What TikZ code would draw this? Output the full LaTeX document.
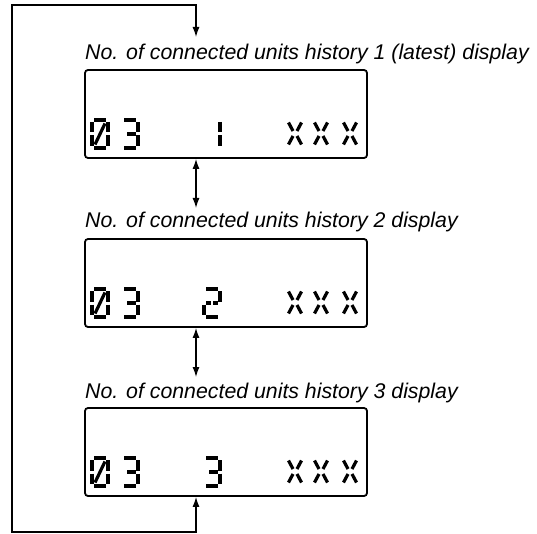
\documentclass[tikz,border=0pt]{standalone}
\usepackage{fontspec}
\setmainfont{Liberation Sans}
\usetikzlibrary{arrows.meta}
\tikzset{
  >={Latex[length=10pt,width=7pt]},
  lcd/.style={draw, line width=1.8pt, rounded corners=3pt, minimum width=282pt, minimum height=88pt, inner sep=0pt},
  lbl/.style={anchor=base west, inner sep=0pt, font=\fontsize{21.3}{25}\selectfont\itshape},
  conn/.style={line width=1.3pt},
  seg/.style={line width=3.2pt},
  xseg/.style={line width=3.2pt}
}
\newcommand\segT{\draw[seg] (2,0)--(14,0);}
\newcommand\segB{\draw[seg] (2,28)--(14,28);}
\newcommand\segUR{\draw[seg] (16,2)--(16,12.5);}
\newcommand\segLR{\draw[seg] (16,15.5)--(16,26);}
\newcommand\segUL{\draw[seg] (0,2)--(0,12.5);}
\newcommand\segLL{\draw[seg] (0,15.5)--(0,26);}
\newcommand\segML{\draw[seg] (2,14)--(7,14);}
\newcommand\segMR{\draw[seg] (9,14)--(14,14);}
\newcommand\digZero[2]{\begin{scope}[shift={(#1,#2)}]\segT\segB\segUR\segLR\segUL\segLL\draw[seg] (13,3.5)--(3,24.5);\end{scope}}
\newcommand\digThree[2]{\begin{scope}[shift={(#1,#2)}]\segT\segB\segUR\segLR\draw[seg] (5,14)--(14,14);\end{scope}}
\newcommand\digTwo[2]{\begin{scope}[shift={(#1,#2)}]\segT\segB\segUR\segLL\segML\segMR\end{scope}}
\newcommand\digOne[2]{\begin{scope}[shift={(#1,#2)}]\segUR\segLR\end{scope}}
\newcommand\digX[2]{\begin{scope}[shift={(#1,#2)}]\draw[xseg] (1.5,0.5)--(6,9);\draw[xseg] (14.5,0.5)--(10,9);\draw[xseg] (1.5,22.5)--(6,14);\draw[xseg] (14.5,22.5)--(10,14);\end{scope}}
\newcommand\rowXXX[1]{\digX{287}{#1}\digX{313}{#1}\digX{342}{#1}}
\begin{document}
\begin{tikzpicture}[x=1pt,y=-1pt]
\useasboundingbox (0,0) rectangle (537,534);
\coordinate (ax) at (196,0);
% labels
\node[lbl] (l1) at (85,60) {No. of connected units history 1 (latest) display};
\node[lbl] (l2) at (85,228) {No. of connected units history 2 display};
\node[lbl] (l3) at (85,398) {No. of connected units history 3 display};
% boxes
\node[lcd] (b1) at (226,114) {};
\node[lcd] (b2) at (226,283) {};
\node[lcd] (b3) at (226,452) {};
% digits
\digZero{92}{120}\digThree{122}{120}\digOne{204}{120}\rowXXX{122}
\digZero{92}{289}\digThree{122}{289}\digTwo{204}{289}\rowXXX{291}
\digZero{92}{458}\digThree{122}{458}\digThree{204}{458}\rowXXX{460}
% connectors
\coordinate (t1) at (196,37);
\coordinate (t2) at (196,208);
\coordinate (t3) at (196,377);
\coordinate (cbr) at (196,532);
\coordinate (cbl) at (12,532);
\coordinate (ctl) at (12,5);
\coordinate (ctr) at (196,5);
\draw[conn, <->] (b1.south -| ax) -- (t2);
\draw[conn, <->] (b2.south -| ax) -- (t3);
\draw[conn, <->] (b3.south -| ax) -- (cbr) -- (cbl) -- (ctl) -- (ctr) -- (t1);
\end{tikzpicture}
\end{document}
